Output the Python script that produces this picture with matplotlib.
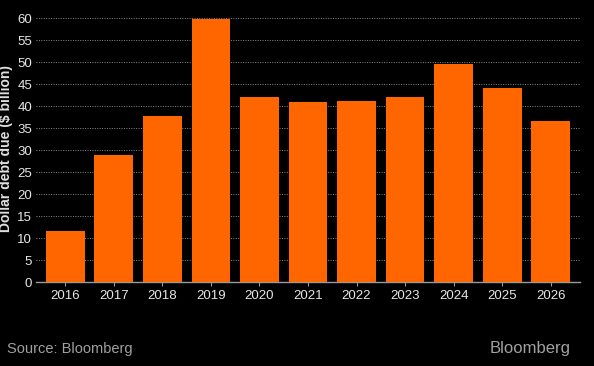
import matplotlib
matplotlib.use('Agg')
import matplotlib.pyplot as plt
import numpy as np

# Dollar debt due per year ($ billion)
years = ['2016', '2017', '2018', '2019', '2020', '2021', '2022', '2023', '2024', '2025', '2026']
debt_due = [11.5, 28.8, 37.8, 59.8, 42.0, 41.0, 41.2, 42.1, 49.5, 44.1, 36.5]
yticks = list(range(0, 61, 5))

plt.rcParams['font.family'] = ['Liberation Sans', 'DejaVu Sans']

fig = plt.figure(figsize=(5.94, 3.66), dpi=100, facecolor='black')
ax = fig.add_axes([0.061, 0.2295, 0.915, 0.727], facecolor='black')

x = np.arange(len(years))
ax.bar(x, debt_due, width=0.8, color='#ff6600', zorder=3)

ax.set_xlim(-0.6, len(years) - 0.4)
ax.set_ylim(0, 60.5)
ax.set_yticks(yticks)
ax.set_xticks(x)
ax.set_xticklabels(years)

# dotted grid
ax.yaxis.grid(True, color='#8a8a8a', linestyle=(0, (1, 1.5)), linewidth=0.7, zorder=0)
for s in ['top', 'right', 'left']:
    ax.spines[s].set_visible(False)
ax.spines['bottom'].set_color('#9a9a9a')
ax.spines['bottom'].set_linewidth(1.0)

ax.tick_params(axis='y', length=0, colors='#e6e6e6', labelsize=9.5, pad=3)
ax.tick_params(axis='x', length=3, color='#9a9a9a', colors='#e6e6e6', labelsize=9.5, pad=3)

ax.set_ylabel('Dollar debt due ($ billion)', color='#e0e0e0', fontsize=10,
              fontweight='bold')
ax.yaxis.set_label_coords(-0.043, 0.5)

fig.text(0.012, 0.035, 'Source: Bloomberg', color='#a0a0a0', fontsize=10.5)
fig.text(0.96, 0.035, 'Bloomberg', color='#a0a0a0', fontsize=12, ha='right')

fig.savefig('out.png', dpi=100, facecolor='black')
